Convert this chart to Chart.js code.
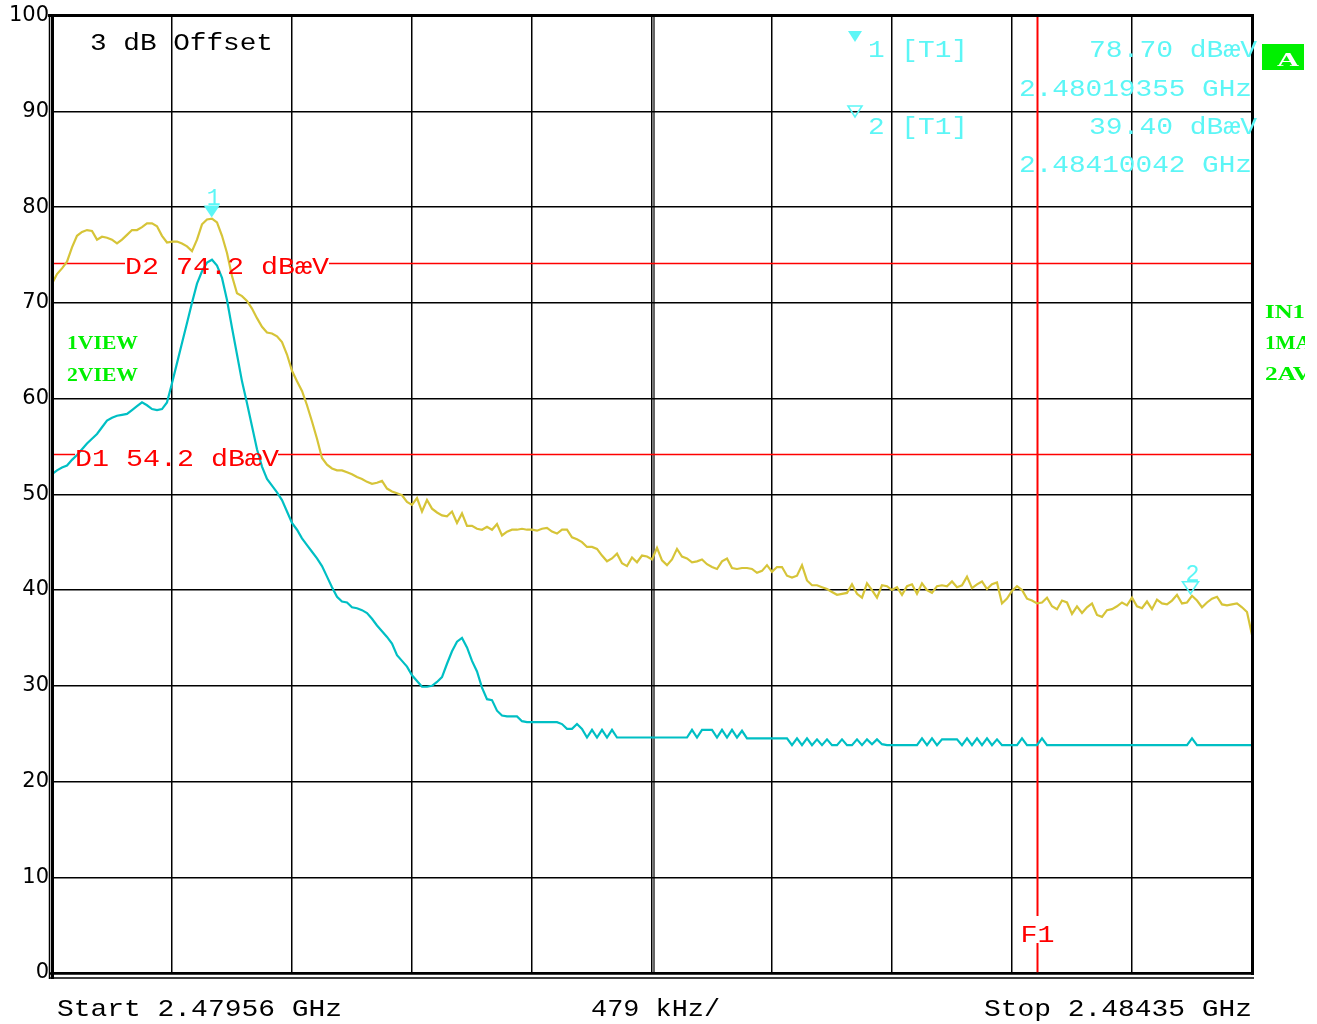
<!DOCTYPE html>
<html><head><meta charset="utf-8">
<script src="https://cdn.jsdelivr.net/npm/chart.js@4.4.1/dist/chart.umd.min.js"></script>
<style>html,body{margin:0;padding:0;background:#fff;overflow:hidden}canvas{display:block}</style>
</head><body>
<canvas id="c" width="1317" height="1024" style="width:1317px;height:1024px"></canvas>
<script>
// ---------- DATA ----------
const START_GHZ = 2.47956;
const STOP_GHZ = 2.48435;
const SPAN_PER_DIV = '479 kHz/';
const yTickValues = [0,10,20,30,40,50,60,70,80,90,100];
// Trace 1 (max hold, yellow), dBµV, 241 sweep points
const trace1MaxHold = [
72.0,73.0,73.6,74.3,75.8,77.0,77.4,77.6,77.5,76.6,
76.9,76.8,76.6,76.2,76.6,77.1,77.6,77.6,77.9,78.3,
78.3,78.0,77.0,76.3,76.4,76.4,76.2,75.9,75.4,76.6,
78.2,78.7,78.8,78.4,77.0,75.2,72.8,71.0,70.7,70.2,
69.4,68.4,67.5,66.9,66.8,66.5,65.9,64.6,62.9,61.8,
60.8,59.3,57.6,55.8,53.8,53.1,52.7,52.5,52.5,52.3,
52.1,51.8,51.6,51.3,51.1,51.2,51.4,50.6,50.3,50.1,
49.9,49.2,48.9,49.6,48.2,49.4,48.5,48.1,47.8,47.7,
48.2,47.0,48.0,46.7,46.7,46.4,46.3,46.6,46.3,46.9,
45.7,46.1,46.3,46.3,46.4,46.3,46.3,46.2,46.4,46.5,
46.1,45.9,46.3,46.3,45.5,45.3,45.0,44.5,44.5,44.3,
43.6,43.0,43.3,43.8,42.8,42.5,43.4,42.9,43.6,43.5,
43.2,44.4,43.1,42.6,43.2,44.3,43.5,43.3,42.9,43.0,
43.2,42.7,42.4,42.2,43.0,43.3,42.3,42.2,42.3,42.3,
42.2,41.8,42.0,42.6,41.9,42.4,42.4,41.5,41.3,41.5,
42.6,41.0,40.5,40.5,40.3,40.1,39.8,39.5,39.6,39.7,
40.6,39.6,39.2,40.7,40.0,39.2,40.5,40.4,40.0,40.3,
39.5,40.4,40.6,39.6,40.7,40.0,39.7,40.4,40.5,40.4,
40.9,40.3,40.5,41.4,40.2,40.6,40.9,40.1,40.6,40.8,
38.6,39.1,39.9,40.4,40.0,39.1,38.9,38.6,38.7,39.2,
38.3,38.0,38.9,38.7,37.5,38.3,37.6,38.2,38.6,37.4,
37.2,37.9,38.0,38.3,38.7,38.4,39.2,38.3,38.1,38.8,
38.0,39.0,38.6,38.5,38.9,39.5,38.6,38.7,39.4,38.9,
38.2,38.7,39.1,39.3,38.5,38.4,38.5,38.6,38.2,37.7,
35.3];
// Trace 2 (average, cyan), dBµV, 241 sweep points
const trace2Average = [
52.1,52.5,52.8,53.0,53.6,54.1,54.7,55.3,55.8,56.3,
57.0,57.7,58.0,58.2,58.3,58.4,58.8,59.2,59.6,59.3,
58.9,58.8,58.9,59.6,61.6,63.7,65.8,67.9,70.0,72.0,
73.3,74.2,74.5,73.9,72.6,70.3,67.4,64.6,61.8,59.5,
57.1,54.7,52.9,51.6,50.9,50.2,49.4,48.2,47.0,46.3,
45.4,44.7,44.0,43.3,42.5,41.4,40.3,39.3,38.8,38.7,
38.2,38.1,37.9,37.6,37.0,36.3,35.7,35.1,34.4,33.2,
32.6,32.0,31.1,30.5,29.9,29.9,30.0,30.4,30.9,32.3,
33.6,34.6,35.0,34.0,32.6,31.5,29.8,28.6,28.5,27.4,
26.9,26.8,26.8,26.8,26.3,26.2,26.2,26.2,26.2,26.2,
26.2,26.2,26.0,25.5,25.5,26.0,25.5,24.6,25.4,24.6,
25.4,24.6,25.4,24.6,24.6,24.6,24.6,24.6,24.6,24.6,
24.6,24.6,24.6,24.6,24.6,24.6,24.6,24.6,25.4,24.6,
25.4,25.4,25.4,24.6,25.4,24.6,25.4,24.6,25.3,24.5,
24.5,24.5,24.5,24.5,24.5,24.5,24.5,24.5,23.8,24.5,
23.8,24.5,23.8,24.4,23.8,24.4,23.8,23.8,24.4,23.8,
23.8,24.4,23.8,24.4,23.9,24.4,23.9,23.8,23.8,23.8,
23.8,23.8,23.8,23.8,24.5,23.8,24.5,23.8,24.4,24.4,
24.4,24.4,23.8,24.5,23.8,24.5,23.8,24.5,23.8,24.4,
23.8,23.8,23.8,23.8,24.5,23.8,23.8,23.8,24.5,23.8,
23.8,23.8,23.8,23.8,23.8,23.8,23.8,23.8,23.8,23.8,
23.8,23.8,23.8,23.8,23.8,23.8,23.8,23.8,23.8,23.8,
23.8,23.8,23.8,23.8,23.8,23.8,23.8,23.8,24.5,23.8,
23.8,23.8,23.8,23.8,23.8,23.8,23.8,23.8,23.8,23.8,
23.8];
const displayLineNames = ['D1','D2'];
const displayLineLevels = [54.2, 74.2];
const freqLineName = 'F1';
const freqLineGHz = 2.48349;
const markerIds = [1, 2];
const markerFreqGHz = [2.48019355, 2.48410042];
const markerLevels = [78.70, 39.40];
const markerFreqText = ['2.48019355 GHz', '2.48410042 GHz'];
const markerLevelText = ['78.70 dBæV', '39.40 dBæV'];
const headerText = '3 dB Offset';
const leftTraceLabels = ['1VIEW', '2VIEW'];
const rightTraceLabels = ['IN1', '1MA', '2AV'];

// ---------- BUILD ----------
const nPts = trace1MaxHold.length;
const freqAt = i => START_GHZ + (STOP_GHZ - START_GHZ) * i / (nPts - 1);
const xGrid = [];
for (let k = 0; k <= 10; k++) xGrid.push(START_GHZ + (STOP_GHZ - START_GHZ) * k / 10);
const t1 = trace1MaxHold.map((v, i) => ({x: freqAt(i), y: v}));
const t2 = trace2Average.map((v, i) => ({x: freqAt(i), y: v}));

const YELLOW = 'rgb(214,196,56)';
const CYAN_T = 'rgb(0,191,196)';
const CYAN_M = 'rgb(92,246,246)';
const RED = '#ff0000';
const GREEN = '#00f000';
const MONO = '"Liberation Mono", "DejaVu Sans Mono", monospace';
const LABEL_FONT = 'bold 19px "Liberation Serif", "DejaVu Serif", serif';

function txt(ctx, s, x, y, size, color, width, align, fullFont) {
  ctx.save();
  ctx.font = fullFont || (size + 'px ' + MONO);
  ctx.fillStyle = color;
  ctx.textBaseline = 'alphabetic';
  const w = ctx.measureText(s).width;
  const sx = width ? width / w : 1;
  let x0 = x;
  if (align === 'right') x0 = x - w * sx;
  else if (align === 'center') x0 = x - w * sx / 2;
  ctx.translate(x0, y);
  ctx.scale(sx, 1);
  ctx.fillText(s, 0, 0);
  ctx.restore();
}
function tri(ctx, cx, tipY, w, h, filled, color) {
  ctx.save();
  ctx.beginPath();
  ctx.moveTo(cx - w / 2, tipY - h);
  ctx.lineTo(cx + w / 2, tipY - h);
  ctx.lineTo(cx, tipY);
  ctx.closePath();
  if (filled) { ctx.fillStyle = color; ctx.fill(); }
  else { ctx.strokeStyle = color; ctx.lineWidth = 1.6; ctx.stroke(); }
  ctx.restore();
}
function line(ctx, x1, y1, x2, y2, color, lw) {
  ctx.save(); ctx.strokeStyle = color; ctx.lineWidth = lw;
  ctx.beginPath(); ctx.moveTo(x1, y1); ctx.lineTo(x2, y2); ctx.stroke(); ctx.restore();
}

const overlay = {
  id: 'overlay',
  beforeDatasetsDraw(chart) {
    const ctx = chart.ctx, a = chart.chartArea, xs = chart.scales.x, ys = chart.scales.y;
    const xc = xs.getPixelForValue(xGrid[5]);
    line(ctx, xc + 2, a.top, xc + 2, a.bottom, '#000', 1.2);
    const gaps = [[75, 278], [125, 329]];
    displayLineLevels.forEach((lv, k) => {
      const y = Math.round(ys.getPixelForValue(lv)) + 0.5;
      line(ctx, a.left, y, gaps[k][0], y, RED, 1.5);
      line(ctx, gaps[k][1], y, a.right, y, RED, 1.5);
    });
    const xf = Math.round(xs.getPixelForValue(freqLineGHz)) + 0.5;
    line(ctx, xf, a.top, xf, 916, RED, 2);
    line(ctx, xf, 943, xf, a.bottom, RED, 2);
  },
  afterDatasetsDraw(chart) {
    const ctx = chart.ctx, a = chart.chartArea, xs = chart.scales.x, ys = chart.scales.y;
    // frame
    line(ctx, a.left - 4, a.top, a.right + 2, a.top, '#000', 3);
    line(ctx, a.left + 0.5, a.top, a.left + 0.5, a.bottom + 6, '#000', 3);
    line(ctx, a.left - 2.5, a.top, a.left - 2.5, a.bottom + 6, '#000', 1.5);
    line(ctx, a.right + 0.5, a.top, a.right + 0.5, a.bottom + 2, '#000', 3);
    line(ctx, a.left - 3, a.bottom + 0.5, a.right + 2, a.bottom + 0.5, '#000', 2.5);
    line(ctx, a.left - 3, a.bottom + 5, a.right + 2, a.bottom + 5, '#000', 1.5);

    const dPos = [[75, 466], [125, 274]];
    displayLineLevels.forEach((lv, k) => {
      txt(ctx, displayLineNames[k] + ' ' + lv.toFixed(1) + ' dBæV', dPos[k][0], dPos[k][1], 24, RED, 204);
    });
    const xf = xs.getPixelForValue(freqLineGHz);
    txt(ctx, freqLineName, xf + 1, 942, 24, RED, 34, 'center');

    markerIds.forEach((id, k) => {
      const mx = xs.getPixelForValue(markerFreqGHz[k]) + 1;
      const my = ys.getPixelForValue(markerLevels[k]) - 2;
      tri(ctx, mx, my, 16, 12, k === 0, CYAN_M);
      txt(ctx, String(id), mx + 2, my - 13, 24, CYAN_M, 14, 'center');
    });

    txt(ctx, headerText, 90, 50, 24, '#000', 183);

    const rowY = [[57, 96], [134, 172]];
    markerIds.forEach((id, k) => {
      tri(ctx, 855, k === 0 ? 42 : 117, 14, 11, k === 0, CYAN_M);
      txt(ctx, id + ' [T1]', 868, rowY[k][0], 24, CYAN_M, 100);
      txt(ctx, markerLevelText[k], 1257, rowY[k][0], 24, CYAN_M, 168, 'right');
      txt(ctx, markerFreqText[k], 1252, rowY[k][1], 24, CYAN_M, 233, 'right');
    });

    ctx.save(); ctx.fillStyle = GREEN; ctx.fillRect(1262, 44, 42, 26); ctx.restore();
    txt(ctx, 'A', 1288, 66, 0, '#fff', 22, 'center', 'bold 18px "Liberation Serif", serif');

    leftTraceLabels.forEach((s, k) => {
      txt(ctx, s, 67, 349 + k * 32, 0, GREEN, 71, 'left', LABEL_FONT);
    });
    ctx.save();
    ctx.beginPath(); ctx.rect(1258, 290, 47, 100); ctx.clip();
    const rw = [40, 46, 46];
    rightTraceLabels.forEach((s, k) => {
      txt(ctx, s, 1265, 318 + k * 31, 0, GREEN, rw[k], 'left', LABEL_FONT);
    });
    ctx.restore();

    txt(ctx, 'Start ' + START_GHZ.toFixed(5) + ' GHz', 57, 1016, 24, '#000', 285);
    txt(ctx, SPAN_PER_DIV, 591, 1016, 24, '#000', 129);
    txt(ctx, 'Stop ' + STOP_GHZ.toFixed(5) + ' GHz', 1252, 1016, 24, '#000', 268, 'right');
  }
};

new Chart(document.getElementById('c'), {
  type: 'line',
  data: {
    datasets: [
      {label: 'Trace 1', data: t1, borderColor: YELLOW, borderWidth: 2.2, pointRadius: 0, tension: 0, fill: false},
      {label: 'Trace 2', data: t2, borderColor: CYAN_T, borderWidth: 2.2, pointRadius: 0, tension: 0, fill: false}
    ]
  },
  options: {
    responsive: false, animation: false, devicePixelRatio: 1,
    layout: {padding: {top: 15, right: 65, left: 0, bottom: 0}, autoPadding: false},
    plugins: {legend: {display: false}, tooltip: {enabled: false}},
    scales: {
      x: {
        type: 'linear', min: START_GHZ, max: STOP_GHZ,
        afterBuildTicks: s => { s.ticks = xGrid.map(v => ({value: v})); },
        ticks: {display: false},
        grid: {color: '#000', lineWidth: 1.5, drawTicks: false},
        border: {display: false},
        afterFit: s => { s.height = 51; }
      },
      y: {
        min: 0, max: 100,
        afterBuildTicks: s => { s.ticks = yTickValues.map(v => ({value: v})); },
        ticks: {color: '#000', font: {family: '"DejaVu Sans", sans-serif', size: 21}, padding: 3},
        grid: {color: '#000', lineWidth: 1.5, drawTicks: false},
        border: {display: false},
        afterFit: s => { s.width = 52; }
      }
    }
  },
  plugins: [overlay]
});
</script>
</body></html>
